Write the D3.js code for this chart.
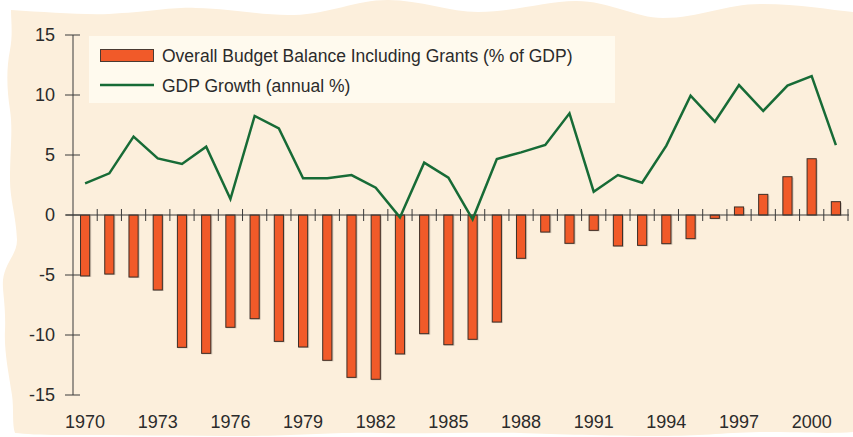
<!DOCTYPE html>
<html>
<head>
<meta charset="utf-8">
<script src="https://cdn.jsdelivr.net/npm/d3@7"></script>
<style>
html,body{margin:0;padding:0;background:#fff;}
svg{display:block;}
text{font-family:"Liberation Sans",Arial,sans-serif;fill:#2b2b2b;}
</style>
</head>
<body>
<svg id="chart" width="853" height="437"></svg>
<script>
const years = [1970,1971,1972,1973,1974,1975,1976,1977,1978,1979,1980,1981,1982,1983,1984,1985,
  1986,1987,1988,1989,1990,1991,1992,1993,1994,1995,1996,1997,1998,1999,2000,2001];
const budgetBalance = [-5.08,-4.92,-5.17,-6.25,-11.03,-11.53,-9.36,-8.64,-10.53,-11.0,-12.11,-13.53,-13.69,
  -11.58,-9.89,-10.81,-10.36,-8.92,-3.61,-1.42,-2.36,-1.28,-2.58,-2.53,-2.39,-1.97,-0.28,0.67,1.72,3.19,4.69,1.11];
const gdpGrowth = [2.64,3.47,6.53,4.72,4.25,5.69,1.33,8.25,7.22,3.06,3.06,3.33,2.28,-0.2,4.36,3.11,
  -0.36,4.67,5.22,5.83,8.47,1.94,3.33,2.69,5.78,9.94,7.78,10.83,8.67,10.78,11.58,5.83];
const yTicks = [-15,-10,-5,0,5,10,15];
const yearLabels = [1970,1973,1976,1979,1982,1985,1988,1991,1994,1997,2000];
const seriesNames = ["Overall Budget Balance Including Grants (% of GDP)", "GDP Growth (annual %)"];

const svg = d3.select("#chart");

// wavy paper background
const bg = "M11,10 C45,12 80,15 109,14 C150,12 170,7 196,8 C235,9 265,16 294,15 C330,14 355,0 388,0 "
 + "C420,0 450,12 478,12 C515,12 545,1 576,1 C610,1 635,18 663,18 C700,18 725,4 761,4 C800,4 830,10 853,12 "
 + "L853,432 C830,434 800,432 760,432 C720,433 700,436 660,436 C600,436 560,434 520,433 C470,432 420,434 380,433 "
 + "C330,432 300,436 250,436 C180,436 120,435 60,435 C40,435 25,434 15,433 "
 + "C12,425 14,410 12,395 C8,370 4,350 5,330 C6,305 2,290 3,280 C5,262 17,255 17,240 C16,215 10,200 10,180 "
 + "C10,150 13,130 10,110 C7,90 6,70 10,50 C13,35 11,20 11,10 Z";
svg.append("path").attr("d", bg).attr("fill", "#fcefdc");

const x = d3.scaleBand().domain(years).range([73, 848]).paddingInner(0.58).paddingOuter(0.29);
const y = d3.scaleLinear().domain([-15, 15]).range([395, 35]);
const gap = (x.step() - x.bandwidth()) / 2;

// legend box
svg.append("rect").attr("x", 89).attr("y", 36).attr("width", 526).attr("height", 67).attr("fill", "#fffaee");
svg.append("rect").attr("x", 100.5).attr("y", 49.5).attr("width", 53).attr("height", 12)
  .attr("fill", "#f15a29").attr("stroke", "#4a3a32").attr("stroke-width", 1);
svg.append("line").attr("x1", 100).attr("x2", 154).attr("y1", 85).attr("y2", 85)
  .attr("stroke", "#176b36").attr("stroke-width", 2.5);
svg.append("text").attr("x", 162).attr("y", 62).attr("font-size", 17.5).text(seriesNames[0]);
svg.append("text").attr("x", 162).attr("y", 92).attr("font-size", 17.5).text(seriesNames[1]);

// y axis
const axisColor = "#3a3a3a";
svg.append("line").attr("x1", 73).attr("x2", 73).attr("y1", y(15)).attr("y2", y(-15))
  .attr("stroke", axisColor).attr("stroke-width", 1);
svg.selectAll(".ytick").data(yTicks).enter().append("line")
  .attr("x1", 65).attr("x2", 80).attr("y1", d => y(d)).attr("y2", d => y(d))
  .attr("stroke", axisColor).attr("stroke-width", 1);
svg.selectAll(".ylab").data(yTicks).enter().append("text")
  .attr("x", 55).attr("y", d => y(d)).attr("dy", "0.36em").attr("text-anchor", "end")
  .attr("font-size", 18).text(d => d);

// bars
svg.selectAll(".shadow").data(years).enter().append("rect")
  .attr("x", d => x(d) + 1).attr("width", x.bandwidth())
  .attr("y", (d, i) => Math.min(y(0), y(budgetBalance[i])) + 1)
  .attr("height", (d, i) => Math.abs(y(budgetBalance[i]) - y(0)))
  .attr("fill", "#b9ab9c").attr("opacity", 0.6);
svg.selectAll(".bar").data(years).enter().append("rect")
  .attr("x", d => x(d) + 0.5).attr("width", x.bandwidth() - 1)
  .attr("y", (d, i) => Math.min(y(0), y(budgetBalance[i])))
  .attr("height", (d, i) => Math.abs(y(budgetBalance[i]) - y(0)))
  .attr("fill", "#f15a29").attr("stroke", "#3d2e26").attr("stroke-width", 1);

// x axis
svg.append("line").attr("x1", 66).attr("x2", 849).attr("y1", y(0)).attr("y2", y(0))
  .attr("stroke", axisColor).attr("stroke-width", 1);
svg.selectAll(".xtick").data(years).enter().append("line")
  .attr("x1", d => x(d) + x.bandwidth() + gap).attr("x2", d => x(d) + x.bandwidth() + gap)
  .attr("y1", y(0) - 6).attr("y2", y(0) + 6)
  .attr("stroke", axisColor).attr("stroke-width", 1);
svg.selectAll(".xlab").data(yearLabels).enter().append("text")
  .attr("x", d => x(d) + x.bandwidth() / 2).attr("y", 428)
  .attr("text-anchor", "middle").attr("font-size", 18).text(d => d);

// GDP growth line
const line = d3.line().x((d, i) => x(years[i]) + x.bandwidth() / 2).y(d => y(d));
svg.append("path").datum(gdpGrowth).attr("d", line)
  .attr("fill", "none").attr("stroke", "#176b36").attr("stroke-width", 2.5)
  .attr("stroke-linejoin", "miter");
</script>
</body>
</html>
